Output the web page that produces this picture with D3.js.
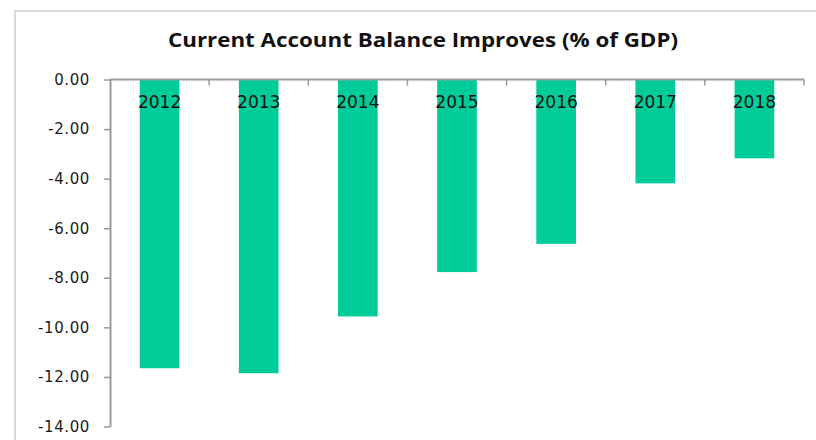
<!DOCTYPE html>
<html>
<head>
<meta charset="utf-8">
<script src="https://cdn.jsdelivr.net/npm/d3@7"></script>
<style>
  html, body { margin: 0; padding: 0; background: #fff; }
  svg { display: block; }
</style>
</head>
<body>
<svg id="chart" width="816" height="440"></svg>
<script>
// Current account balance, % of GDP
const years = ["2012", "2013", "2014", "2015", "2016", "2017", "2018"];
const balance = [-11.65, -11.85, -9.56, -7.77, -6.63, -4.19, -3.18];
const yTicks = [0, -2, -4, -6, -8, -10, -12, -14];
const titleText = "Current Account Balance Improves (% of GDP)";

const svg = d3.select("#chart");
const W = 816, H = 440;
const plot = { left: 110, right: 804, top: 79.5, bottom: 426.5 };

// chart frame
svg.append("rect")
  .attr("x", 15).attr("y", 11)
  .attr("width", W + 20).attr("height", H + 20)
  .attr("fill", "#fff")
  .attr("stroke", "#d9d9d9")
  .attr("stroke-width", 2);

const x = d3.scaleBand()
  .domain(years)
  .range([plot.left, plot.right])
  .paddingInner(0.6)
  .paddingOuter(0.3);

const y = d3.scaleLinear()
  .domain([-14, 0])
  .range([plot.bottom, plot.top]);

const data = years.map((yr, i) => ({ year: yr, value: balance[i] }));

// bars hang down from the zero line
svg.append("g").selectAll("rect")
  .data(data)
  .join("rect")
  .attr("x", d => x(d.year))
  .attr("width", x.bandwidth())
  .attr("y", y(0))
  .attr("height", d => y(d.value) - y(0))
  .attr("fill", "#00cc99");

// y axis
const yAxis = svg.append("g")
  .attr("transform", `translate(${plot.left},0)`)
  .call(d3.axisLeft(y)
    .tickValues(yTicks)
    .tickFormat(d => d.toFixed(2))
    .tickSize(6)
    .tickSizeOuter(0)
    .tickPadding(14));
yAxis.select(".domain").attr("stroke", "#9a9a9a").attr("stroke-width", 2);
yAxis.selectAll(".tick line").attr("stroke", "#9a9a9a").attr("stroke-width", 1.5);
yAxis.selectAll(".tick text")
  .attr("fill", "#1a1a1a")
  .style("font-family", "'DejaVu Sans', sans-serif")
  .style("font-size", "15px")
  .style("letter-spacing", "0.6px");

// category axis along the zero line
const xAxis = svg.append("g");
xAxis.append("line")
  .attr("x1", plot.left).attr("x2", plot.right)
  .attr("y1", y(0)).attr("y2", y(0))
  .attr("stroke", "#9a9a9a").attr("stroke-width", 2);

const boundaries = years.map(yr => x(yr) - x.step() * x.paddingOuter())
  .concat([x(years[years.length - 1]) + x.bandwidth() + x.step() * x.paddingOuter()]);
xAxis.selectAll("line.tick")
  .data(boundaries.slice(1))
  .join("line")
  .attr("class", "tick")
  .attr("x1", d => d).attr("x2", d => d)
  .attr("y1", y(0)).attr("y2", y(0) + 6)
  .attr("stroke", "#9a9a9a").attr("stroke-width", 1.5);

xAxis.selectAll("text")
  .data(years)
  .join("text")
  .attr("x", d => x(d) + x.bandwidth() / 2)
  .attr("y", y(0) + 28.5)
  .attr("text-anchor", "middle")
  .attr("fill", "#111")
  .style("font-family", "'DejaVu Sans', sans-serif")
  .style("font-size", "17px")
  .text(d => d);

// title
const title = svg.append("text")
  .attr("x", 423)
  .attr("y", 47)
  .attr("text-anchor", "middle")
  .attr("fill", "#111")
  .style("font-family", "'Open Sans', sans-serif")
  .style("font-weight", "700")
  .style("font-size", "20px")
  .text(titleText);
const tw = title.node().getComputedTextLength();
if (Math.abs(tw - 510) > 4) {
  title.attr("textLength", 510).attr("lengthAdjust", "spacingAndGlyphs");
}
</script>
</body>
</html>
